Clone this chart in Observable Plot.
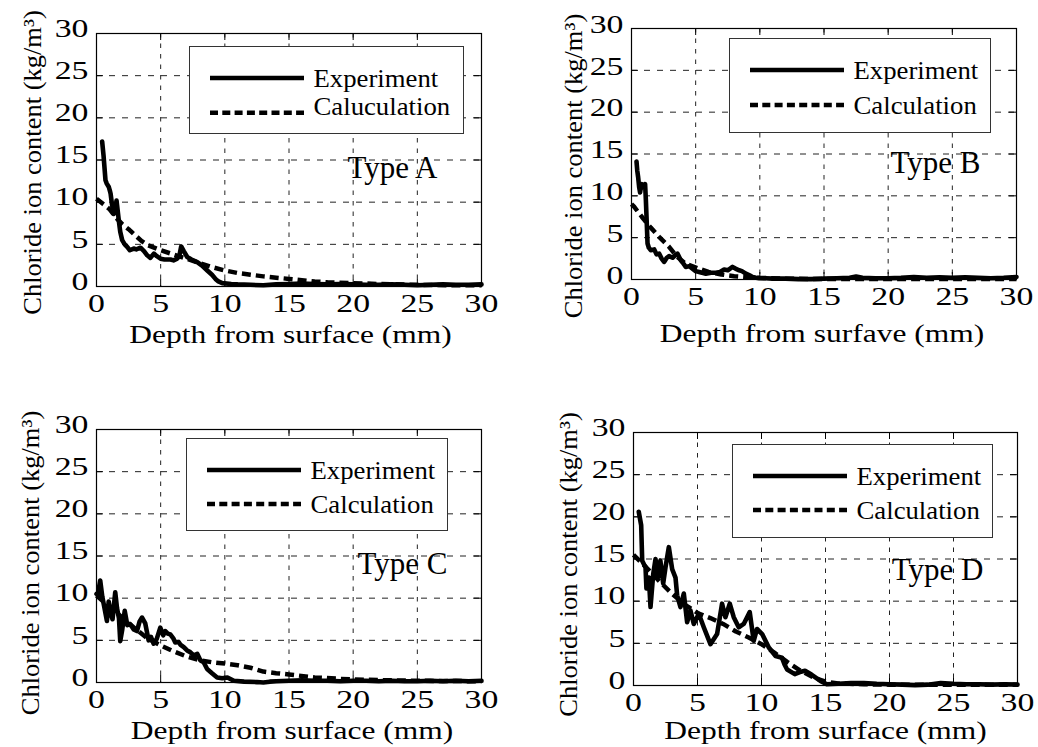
<!DOCTYPE html>
<html><head><meta charset="utf-8">
<script src="https://cdn.jsdelivr.net/npm/d3@7"></script>
<script src="https://cdn.jsdelivr.net/npm/@observablehq/plot@0.6"></script>
<style>
html,body{margin:0;padding:0;background:#fff;}
#root{position:relative;width:1038px;height:747px;overflow:hidden;background:#fff;font-family:"Liberation Serif","Times New Roman",serif;}
.panel{position:absolute;}
.legend{position:absolute;border:1px solid #333;background:#fff;box-sizing:border-box;}
.legend svg{position:absolute;left:0;top:0;overflow:visible;}
</style></head><body><div id="root"></div>
<script>
// ---------- data ----------
const xTicks = [0, 5, 10, 15, 20, 25, 30];
const yTicks = [0, 5, 10, 15, 20, 25, 30];
const yLabel = "Chloride ion content (kg/m³)";
const xLabels = ["Depth from surface (mm)", "Depth from surfave (mm)", "Depth from surface (mm)", "Depth from surface (mm)"];
const typeLabels = ["Type A", "Type B", "Type C", "Type D"];
const seriesLabelsA = ["Experiment", "Caluculation"];
const seriesLabels = ["Experiment", "Calculation"];

const expDepthA = [0.44,0.55,0.7,0.8,0.96,1.05,1.1,1.2,1.35,1.45,1.56,1.65,1.74,1.85,2.0,2.2,2.39,2.6,2.9,3.1,3.43,3.7,3.95,4.2,4.47,4.7,4.99,5.3,5.77,6.0,6.29,6.45,6.6,6.8,7.07,7.4,7.85,8.2,8.63,9.0,9.27,9.5,9.8,10.5,11,12,13,14,15,16,17,18,19,20,21,22,23,24,25,26,27,28,29,30];
const expValueA = [17.2,15.5,12.6,12.2,11.8,11.3,11.0,9.8,8.6,8.8,10.2,9.0,7.8,6.5,5.5,5.0,4.7,4.3,4.5,4.4,4.6,4.2,3.7,3.4,3.9,3.6,3.3,3.2,3.2,3.1,3.3,3.6,4.75,4.2,3.5,3.2,2.9,2.5,1.9,1.4,0.9,0.6,0.4,0.3,0.25,0.2,0.15,0.25,0.3,0.35,0.3,0.25,0.3,0.25,0.2,0.2,0.25,0.2,0.15,0.2,0.25,0.2,0.2,0.25];
const calcDepthA = [0,0.5,1,1.5,2,2.5,3,3.5,4,5,6,7,8,9,10,11,12,13,14,15,16,17,18,20,22,25,28,30];
const calcValueA = [10.4,9.8,9.2,8.2,7.4,6.8,6.1,5.4,4.9,4.3,3.8,3.3,2.8,2.3,1.9,1.6,1.4,1.2,1.05,0.9,0.75,0.6,0.5,0.4,0.3,0.2,0.15,0.15];

const expDepthB = [0.39,0.45,0.52,0.6,0.67,0.75,0.8,0.95,1.06,1.12,1.17,1.25,1.35,1.5,1.77,1.95,2.15,2.35,2.54,2.75,2.93,3.2,3.4,3.58,3.84,4.0,4.23,4.5,4.75,5.0,5.27,5.5,5.79,6.2,6.57,6.9,7.22,7.5,7.87,8.1,8.39,8.6,8.91,9.2,9.43,9.7,9.95,10.5,11,12,13,14,15,16,17,17.5,18,19,20,21,22,23,24,25,26,27,28,29,30];
const expValueB = [14.1,13.0,12.2,11.0,10.4,11.2,11.4,11.0,11.4,9.5,7.5,4.3,3.8,3.5,3.6,3.0,3.1,2.5,2.1,2.6,2.8,2.6,2.9,3.1,2.3,2.0,1.5,1.6,1.3,1.0,0.9,0.8,0.7,0.8,0.8,0.9,1.2,1.1,1.5,1.3,1.1,1.0,0.7,0.5,0.3,0.2,0.15,0.15,0.1,0.1,0.05,0.05,0.1,0.15,0.2,0.35,0.2,0.15,0.15,0.2,0.3,0.2,0.25,0.2,0.25,0.2,0.15,0.2,0.3];
const calcDepthB = [0,0.2,0.8,1.5,2.15,2.93,3.5,4.21,5.25,6,7,8,9,10,12,15,20,25,30];
const calcValueB = [9.0,8.7,7.5,6.2,5.1,3.9,2.8,1.9,1.3,0.9,0.6,0.4,0.3,0.2,0.1,0.05,0.05,0.05,0.05];

const expDepthC = [0.0,0.1,0.29,0.45,0.6,0.81,0.95,1.1,1.25,1.46,1.6,1.75,1.85,2.0,2.2,2.4,2.63,2.9,3.15,3.35,3.55,3.8,4.06,4.25,4.45,4.7,4.97,5.2,5.36,5.55,5.75,6.0,6.14,6.4,6.53,6.8,7.06,7.3,7.58,7.85,8.1,8.35,8.62,9.0,9.4,9.8,10.2,10.7,11.5,12.5,13.0,13.5,14,15,16,17,18,19,20,21,22,23,24,25,26,27,28,29,30];
const expValueC = [10.5,10.4,12.1,10.2,9.0,7.3,9.6,8.3,7.5,10.7,8.8,7.6,4.9,6.2,8.5,6.8,6.9,6.3,6.1,7.2,7.7,7.0,5.0,5.4,4.6,5.2,6.5,5.6,6.1,5.8,5.7,5.2,4.75,4.8,4.5,4.2,3.8,3.6,3.2,3.4,2.6,2.4,1.6,1.1,0.6,0.5,0.6,0.2,0.1,0.05,0.0,0.1,0.15,0.2,0.25,0.2,0.2,0.15,0.2,0.2,0.15,0.2,0.15,0.15,0.2,0.15,0.2,0.15,0.2];
const calcDepthC = [0,1,2,3,4,5,6,7,8,9,10,11,12,13,14,15,17,20,25,30];
const calcValueC = [10.3,9.0,7.7,6.4,5.2,4.4,3.7,3.1,2.65,2.4,2.25,2.05,1.75,1.3,1.1,0.95,0.6,0.35,0.2,0.15];

const expDepthD = [0.41,0.6,0.68,0.94,1.01,1.2,1.33,1.54,1.72,1.9,2.1,2.32,2.5,2.76,3.02,3.28,3.41,3.67,3.93,4.19,4.45,4.71,5.1,5.49,6.01,6.53,6.92,7.18,7.52,7.83,8.22,8.61,9.08,9.39,9.65,10.05,10.57,11.1,11.6,11.8,12.0,12.6,13.0,13.4,13.9,14.6,15.1,16,17,18,19,20,21,22,23,24,25,26,27,28,29,30];
const expValueD = [20.6,19.0,14.8,14.0,11.5,12.8,9.3,13.2,15.0,12.8,14.8,12.1,14.0,16.4,13.8,12.8,10.7,9.3,10.9,7.5,8.9,7.3,8.5,6.9,4.9,6.1,9.7,8.1,9.7,8.1,6.9,7.3,8.7,5.3,6.7,6.1,4.5,3.5,3.3,2.5,1.9,1.35,1.6,1.75,1.3,0.55,0.15,0.2,0.3,0.3,0.2,0.15,0.1,0.05,0.1,0.3,0.2,0.15,0.15,0.1,0.15,0.1];
const calcDepthD = [0,1,2,3,4,5,6,7,8,9,10,11,12,13,14,15,16,18,20,25,30];
const calcValueD = [15.5,14.0,12.4,10.9,9.6,8.6,8.0,7.3,6.4,5.7,4.9,3.9,2.8,1.8,1.0,0.45,0.25,0.15,0.1,0.1,0.1];

// ---------- layout ----------
const panels = [
  {left:0, top:0, w:519, h:374, ml:96, mr:38, mt:33, mb:88,
   expD:expDepthA, expV:expValueA, calcD:calcDepthA, calcV:calcValueA, names:seriesLabelsA,
   xl:xLabels[0], type:typeLabels[0], xlDx:1.5, xlDy:56, ylDx:-55.5, ylDy:2.5, tyDx:-44, tyDy:144, ytDy:-5,
   leg:{x:189, y:46, w:275, h:88, l1:31, l2:65.7, b1:40, b2:68}},
  {left:519, top:0, w:519, h:374, ml:112, mr:22, mt:28, mb:95,
   expD:expDepthB, expV:expValueB, calcD:calcDepthB, calcV:calcValueB, names:seriesLabels,
   xl:xLabels[1], type:typeLabels[1], xlDx:-2, xlDy:62.4, ylDx:-50, ylDy:12, tyDx:-36, tyDy:144, ytDy:-4,
   leg:{x:210, y:38, w:262, h:95, l1:31, l2:66, b1:40, b2:75}},
  {left:0, top:374, w:519, h:373, ml:96, mr:38, mt:55, mb:65,
   expD:expDepthC, expV:expValueC, calcD:calcDepthC, calcV:calcValueC, names:seriesLabels,
   xl:xLabels[2], type:typeLabels[2], xlDx:3, xlDy:56.6, ylDx:-58, ylDy:7, tyDx:-34, tyDy:144, ytDy:-5,
   leg:{x:186, y:64, w:262, h:93, l1:31, l2:65, b1:39.5, b2:74}},
  {left:519, top:374, w:519, h:373, ml:114, mr:21, mt:58, mb:62,
   expD:expDepthD, expV:expValueD, calcD:calcDepthD, calcV:calcValueD, names:seriesLabels,
   xl:xLabels[3], type:typeLabels[3], xlDx:0, xlDy:53.6, ylDx:-57, ylDy:5.5, tyDx:-34, tyDy:147.7, ytDy:-5,
   leg:{x:213, y:70, w:261, h:94, l1:31, l2:65, b1:40, b2:74}}
];

const FONT = '"Liberation Serif","Times New Roman",serif';
const zipPts = (ds, vs) => ds.slice(0, Math.min(ds.length, vs.length)).map((d, i) => ({d, v: vs[i]}));

function stretch(t, sx, sy, anchor) {
  const g = document.createElementNS("http://www.w3.org/2000/svg", "g");
  t.parentNode.insertBefore(g, t);
  g.appendChild(t);
  const b = g.getBBox();
  const ax = anchor === "end" ? b.x + b.width : b.x + b.width / 2;
  const ay = b.y + b.height / 2;
  g.setAttribute("transform", `translate(${ax},${ay}) scale(${sx},${sy}) translate(${-ax},${-ay})`);
}

const root = document.getElementById("root");
panels.forEach(p => {
  const div = document.createElement("div");
  div.className = "panel";
  Object.assign(div.style, {left: p.left + "px", top: p.top + "px", width: p.w + "px", height: p.h + "px"});
  root.appendChild(div);
  const fw = p.w - p.ml - p.mr, fh = p.h - p.mt - p.mb;
  const exp = zipPts(p.expD, p.expV), calc = zipPts(p.calcD, p.calcV);
  const inner = xTicks.slice(1, -1), innerY = yTicks.slice(1, -1);
  const svg = Plot.plot({
    width: p.w, height: p.h,
    marginLeft: p.ml, marginRight: p.mr, marginTop: p.mt, marginBottom: p.mb,
    style: {fontFamily: FONT, fontSize: "26px", background: "#fff", color: "#000", overflow: "visible"},
    x: {domain: [0, 30], ticks: xTicks},
    y: {domain: [0, 30], ticks: yTicks},
    marks: [
      Plot.ruleX(inner, {stroke: "#222", strokeWidth: 1, strokeDasharray: "4.5,6"}),
      Plot.ruleY(innerY, {stroke: "#222", strokeWidth: 1, strokeDasharray: "6,7"}),
      Plot.ruleX(xTicks, {stroke: "#000", insetBottom: fh - 7}),
      Plot.ruleX(xTicks, {stroke: "#000", insetTop: fh - 7}),
      Plot.ruleY(yTicks, {stroke: "#000", insetRight: fw - 7}),
      Plot.ruleY(yTicks, {stroke: "#000", insetLeft: fw - 7}),
      Plot.line(calc, {x: "d", y: "v", stroke: "#000", strokeWidth: 4.5, strokeDasharray: "9,5", strokeLinecap: "butt"}),
      Plot.line(exp, {x: "d", y: "v", stroke: "#000", strokeWidth: 4.6}),
      Plot.frame({stroke: "#000", strokeWidth: 1.2}),
      Plot.axisX(xTicks, {tickSize: 0, tickPadding: 7.5, fontSize: 26, label: null}),
      Plot.axisY(yTicks, {tickSize: 0, tickPadding: 8, dy: p.ytDy, fontSize: 26, label: null}),
      Plot.text([p.xl], {frameAnchor: "bottom", dx: p.xlDx, dy: p.xlDy, textAnchor: "middle", lineAnchor: "bottom", fontSize: 25}),
      Plot.text([yLabel], {frameAnchor: "left", dx: p.ylDx, dy: p.ylDy, rotate: -90, textAnchor: "middle", lineAnchor: "bottom", fontSize: 25}),
      Plot.text([p.type], {frameAnchor: "top-right", dx: p.tyDx, dy: p.tyDy, textAnchor: "end", lineAnchor: "bottom", fontSize: 31})
    ]
  });
  svg.style.position = "absolute";
  svg.style.left = "0px";
  svg.style.top = "0px";
  div.appendChild(svg);

  // widen axis texts to match the reference's proportions
  svg.querySelectorAll("text").forEach(t => {
    const s = t.textContent;
    const pg = t.parentNode;
    const al = (pg.getAttribute && pg.getAttribute("aria-label")) || "";
    if (/^\d+$/.test(s)) {
      const isY = al.includes("y-axis") || pg.getAttribute("text-anchor") === "end";
      stretch(t, 1.3, 1, isY ? "end" : "middle");
    } else if (s === p.xl) {
      stretch(t, 1.26, 1, "middle");
    } else if (s === yLabel) {
      stretch(t, 1, 1.06, "middle");
    }
  });

  // legend box
  const L = p.leg;
  const lg = document.createElement("div");
  lg.className = "legend";
  Object.assign(lg.style, {left: L.x + "px", top: L.y + "px", width: L.w + "px", height: L.h + "px"});
  div.appendChild(lg);
  const ls = d3.select(lg).append("svg").attr("width", L.w).attr("height", L.h)
    .style("font-family", FONT).style("font-size", "25px");
  ls.append("line").attr("x1", 20).attr("x2", 114).attr("y1", L.l1).attr("y2", L.l1)
    .attr("stroke", "#000").attr("stroke-width", 4.5);
  ls.append("line").attr("x1", 20).attr("x2", 114).attr("y1", L.l2).attr("y2", L.l2)
    .attr("stroke", "#000").attr("stroke-width", 4.5).attr("stroke-dasharray", "8,4.3");
  ls.append("text").attr("transform", `translate(123.5,${L.b1}) scale(1.07,1)`).text(p.names[0]);
  ls.append("text").attr("transform", `translate(123.5,${L.b2}) scale(1.07,1)`).text(p.names[1]);
});
</script></body></html>
